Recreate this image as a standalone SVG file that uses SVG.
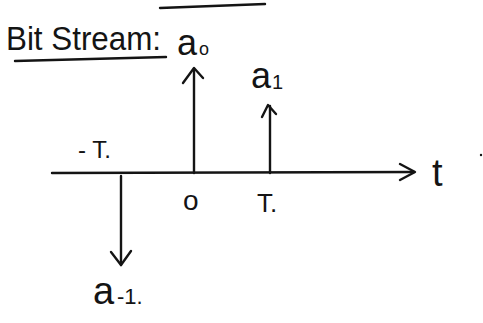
<svg xmlns="http://www.w3.org/2000/svg" width="483" height="323" viewBox="0 0 483 323">
<style>
.ln{stroke:#141414;stroke-width:2.4;fill:none;stroke-linecap:round;stroke-linejoin:round}
.tx{font-family:"Liberation Sans",Arial,sans-serif;fill:#141414}
</style>
<rect width="483" height="323" fill="#ffffff"/>
<g id="title">
<text class="tx" x="6" y="50" font-size="34" textLength="155" lengthAdjust="spacingAndGlyphs">Bit Stream:</text>
<path class="ln" d="M15 61 L166 57"/>
<path class="ln" d="M160 8 L265 4"/>
</g>
<g id="connectors">
<path class="ln" d="M52 173 L414 172"/>
<path class="ln" d="M400 164 L415 172 L400 180"/>
<path class="ln" d="M194 173 L194 69"/>
<path class="ln" d="M183 83 L194 68 L203 78"/>
<path class="ln" d="M270 173 L270 106"/>
<path class="ln" d="M262 117 L268 105 L276 114"/>
<path class="ln" d="M121 176 L121 265"/>
<path class="ln" d="M111 252 L121 265 L131 251"/>
</g>
<g id="axis-label">
<text class="tx" x="432" y="186" font-size="38">t</text>
<circle cx="481" cy="155" r="1.2" fill="#141414"/>
</g>
<g id="a0">
<text class="tx" x="177" y="55" font-size="36">a</text>
<text class="tx" x="199" y="55" font-size="18">o</text>
</g>
<g id="a1">
<text class="tx" x="251" y="88" font-size="36">a</text>
<text class="tx" x="272" y="89" font-size="20">1</text>
</g>
<g id="am1">
<text class="tx" x="93" y="304" font-size="38">a</text>
<text class="tx" x="117" y="304" font-size="22">-1.</text>
</g>
<g id="ticks">
<text class="tx" x="78" y="158" font-size="24">- T.</text>
<text class="tx" x="183" y="210" font-size="28">o</text>
<text class="tx" x="257" y="212" font-size="26">T.</text>
</g>
</svg>
